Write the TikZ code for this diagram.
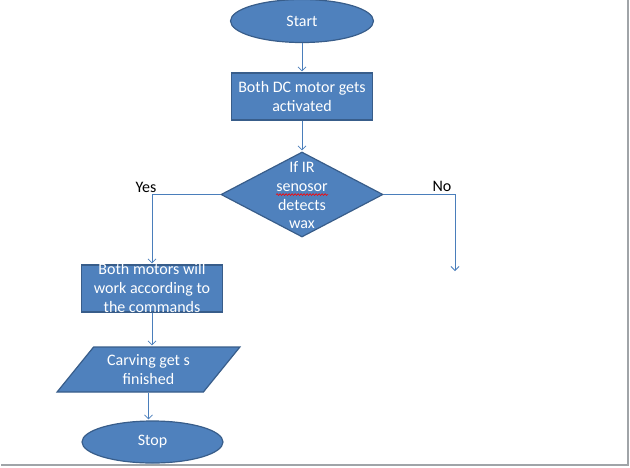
\documentclass[tikz,border=0pt]{standalone}
\usepackage{fontspec}
\setmainfont{Carlito}
\usetikzlibrary{shapes.geometric,positioning,arrows.meta,decorations.pathmorphing}

\definecolor{boxfill}{HTML}{4F81BD}
\definecolor{boxedge}{HTML}{385D8A}
\definecolor{flowline}{HTML}{4A7EBB}
\definecolor{frameline}{HTML}{A0A4A8}

% red wavy spell-check underline
\newcommand{\misspelt}[1]{\tikz[baseline=(w.base)]{\node[inner sep=0pt,text=white] (w) {#1};
  \draw[red,line width=0.6pt,decorate,decoration={snake,amplitude=0.9pt,segment length=3pt}]
    ([yshift=-3pt]w.base west) -- ([yshift=-3pt]w.base east);}}

\begin{document}
\begin{tikzpicture}[x=1pt,y=1pt,shorten >=1pt,on grid,
  every node/.style={font=\fontsize{16}{19}\selectfont},
  block/.style={draw=boxedge,fill=boxfill,text=white,line width=1.2pt},
  inside/.style={align=center,text=white},
  terminal/.style={block,ellipse,minimum width=143pt,minimum height=43pt},
  process/.style={block,rectangle,align=center,inner sep=0pt,minimum width=141pt,minimum height=47pt},
  decision/.style={block,diamond,minimum width=162pt,minimum height=85pt,inner sep=0pt},
  io/.style={block,trapezium,trapezium left angle=51,trapezium right angle=129,
    trapezium stretches=true,minimum width=183pt,minimum height=45pt,align=center},
  flow/.style={draw=flowline,line width=0.8pt,-{Straight Barb[length=4pt,width=8pt]}}]
   \useasboundingbox (0,0) rectangle (630,-467);
   \node[terminal] (start) at (302,-21) {Start};
   \node[process] (motors) [below=75.5pt of start] {Both DC motor gets\\activated};
   \node[decision,label={[inside,font=\fontsize{16}{18.7}\selectfont,yshift=-1pt]center:If IR\\\misspelt{senosor}\\detects\\wax}]
     (ir) [below=98pt of motors] {};
   \node[process,label={[inside,yshift=0.5pt]center:Both motors will\\work according to\\the commands}]
     (work) [below left=94pt and 150pt of ir] {};
   \node[io] (carve) [below=81pt of work,xshift=-3.5pt] {Carving get s\\finished};
   \node[terminal,minimum width=141pt,minimum height=42pt] (stop) [below=72.5pt of carve,xshift=4pt] {Stop};
   \coordinate (noend) at (455,-272);
    \draw[flow] (start) -- (motors);
    \draw[flow] (motors) -- (ir);
    \draw[flow] (ir.west) -| node[pos=0.5,above,xshift=-6pt,inner sep=1pt] {Yes} (work.north);
    \draw[flow] (ir.east) -| node[pos=0.5,above,xshift=-13pt,inner sep=2pt] {No} (noend);
    \draw[flow] (work.south) -- (work.south |- carve.north);
    \draw[flow] (carve.south) -- (carve.south |- stop.north);
   \draw[frameline,line width=2pt] (628,0) -- (628,-465) -- (0,-465);
\end{tikzpicture}
\end{document}
